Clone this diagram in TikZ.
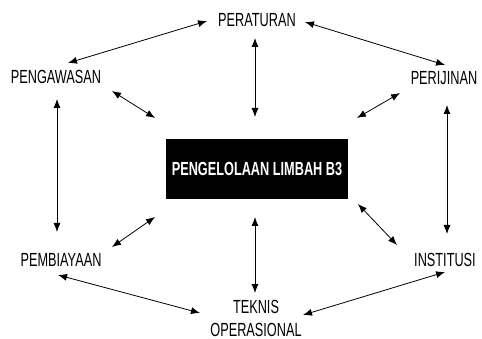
\documentclass[tikz,border=0pt]{standalone}
\usepackage{fontspec}
\setmainfont{Liberation Sans}[FakeStretch=0.67]
\usetikzlibrary{arrows.meta}

\begin{document}
\begin{tikzpicture}[x=1pt, y=-1pt,
    lbl/.style={inner sep=0pt, align=center, font=\fontsize{19}{23}\selectfont},
    link/.style={<->, >={Latex[length=9pt,width=7pt]}, line width=0.8pt}]

    \useasboundingbox (0,0) rectangle (482,339);

    % the centre
    \node[fill=black, text=white, minimum width=182pt, minimum height=60pt,
          font=\fontsize{19}{23}\selectfont\bfseries] (limbah) at (257,169) {PENGELOLAAN LIMBAH B3};

    % the aspects round it
    \node[lbl] (peraturan) at (257,20) {PERATURAN};
    \node[lbl] (pengawasan) at (56,77) {PENGAWASAN};
    \node[lbl] (perijinan) at (444,78) {PERIJINAN};
    \node[lbl] (pembiayaan) at (61,260) {PEMBIAYAAN};
    \node[lbl] (institusi) at (445,260) {INSTITUSI};
    \node[lbl] (teknis) at (256,318) {TEKNIS\\OPERASIONAL};

    % double arrows, ends given as offsets from the node centres
    \foreach \p/\px/\py/\q/\qx/\qy in {
        pengawasan/12/-14/peraturan/-50/1,
        peraturan/48/2/perijinan/1/-13,
        peraturan/-2/18/limbah/-2/-52,
        pengawasan/56/14/limbah/-102/-51,
        perijinan/-44/15/limbah/100/-51,
        pengawasan/1/22/pembiayaan/-4/-28,
        perijinan/3/27/institusi/2/-26,
        pembiayaan/51/-13/limbah/-102/48,
        institusi/-48/-15/limbah/101/35,
        limbah/-2/48/teknis/-1/-25,
        pembiayaan/-3/15/teknis/-56/-5,
        institusi/0/12/teknis/47/-3
    } {
        \draw[link] ([shift={(\px,\py)}]\p.center) -- ([shift={(\qx,\qy)}]\q.center);
    }

\end{tikzpicture}
\end{document}
